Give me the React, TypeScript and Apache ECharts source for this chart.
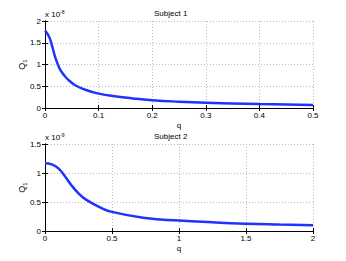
import React, { useEffect, useRef } from "react";
import * as echarts from "echarts";

const q1 = [0, 0.005, 0.009, 0.012, 0.015, 0.018, 0.0216, 0.025, 0.028, 0.034, 0.04, 0.046, 0.052, 0.06, 0.071, 0.085, 0.1, 0.13, 0.164, 0.2, 0.25, 0.3, 0.35, 0.4, 0.45, 0.5];
const v1 = [1.78, 1.7, 1.6, 1.48, 1.35, 1.21, 1.08, 0.97, 0.89, 0.78, 0.69, 0.62, 0.56, 0.5, 0.44, 0.38, 0.33, 0.27, 0.22, 0.18, 0.145, 0.12, 0.105, 0.09, 0.08, 0.07];
const q2 = [0, 0.05, 0.1, 0.15, 0.2, 0.25, 0.3, 0.4, 0.5, 0.75, 1, 1.25, 1.5, 1.75, 2];
const v2 = [1.17, 1.15, 1.08, 0.94, 0.78, 0.65, 0.55, 0.42, 0.33, 0.225, 0.18, 0.15, 0.127, 0.112, 0.1];
const xTicks1 = [0, 0.1, 0.2, 0.3, 0.4, 0.5];
const xTicks2 = [0, 0.5, 1, 1.5, 2];
const yTicks1 = [0, 0.5, 1, 1.5, 2];
const yTicks2 = [0, 0.5, 1, 1.5];
const titles = ["Subject 1", "Subject 2"];
const exponents = ["-8", "-9"];

const FONT = "Liberation Sans";
const FS = 8;

export default function App() {
  const ref = useRef<HTMLDivElement>(null);
  useEffect(() => {
    const chart = echarts.init(ref.current!, undefined, { renderer: "svg" });
    const grids = [
      { left: 45, top: 21, width: 268, height: 87 },
      { left: 45, top: 144, width: 268, height: 87 },
    ];
    const xT = [xTicks1, xTicks2];
    const yT = [yTicks1, yTicks2];
    const xAxes: any[] = [];
    const yAxes: any[] = [];
    const series: any[] = [];
    [0, 1].forEach((i) => {
      const xt = xT[i];
      const yt = yT[i];
      const xi = xt[1] - xt[0];
      const yi = yt[1] - yt[0];
      xAxes.push({
        type: "value", gridIndex: i, min: xt[0], max: xt[xt.length - 1], interval: xi,
        name: "q", nameLocation: "middle", nameGap: 13, nameMoveOverlap: false,
        nameTextStyle: { fontFamily: FONT, fontSize: FS, color: "#000", verticalAlign: "top" },
        axisLine: { show: true, lineStyle: { color: "#000", width: 1 } },
        axisTick: { show: true, inside: true, length: 3, lineStyle: { color: "#000" } },
        axisLabel: { fontFamily: FONT, fontSize: FS, color: "#000", margin: 3 },
        splitLine: { show: true, lineStyle: { color: "#bbb", type: [1, 2], width: 1 } },
      });
      xAxes.push({
        type: "value", gridIndex: i, position: "top", min: xt[0], max: xt[xt.length - 1], interval: xi,
        axisLine: { show: true, lineStyle: { color: "#000", width: 1 } },
        axisTick: { show: true, inside: true, length: 3, lineStyle: { color: "#000" } },
        axisLabel: { show: false }, splitLine: { show: false },
      });
      yAxes.push({
        type: "value", gridIndex: i, min: yt[0], max: yt[yt.length - 1], interval: yi,
        name: "{q|Q}{s|1}", nameLocation: "middle", nameGap: 17, nameRotate: 90, nameMoveOverlap: false,
        nameTextStyle: {
          fontFamily: FONT, color: "#000",
          rich: {
            q: { fontFamily: FONT, fontSize: FS + 1, color: "#000" },
            s: { fontFamily: FONT, fontSize: 6, color: "#000", verticalAlign: "bottom", padding: [6, 0, 0, 0] },
          },
        },
        axisLine: { show: true, lineStyle: { color: "#000", width: 1 } },
        axisTick: { show: true, inside: true, length: 3, lineStyle: { color: "#000" } },
        axisLabel: { fontFamily: FONT, fontSize: FS, color: "#000", margin: 4 },
        splitLine: { show: true, lineStyle: { color: "#bbb", type: [1, 2], width: 1 } },
      });
      yAxes.push({
        type: "value", gridIndex: i, position: "right", min: yt[0], max: yt[yt.length - 1], interval: yi,
        axisLine: { show: true, lineStyle: { color: "#000", width: 1 } },
        axisTick: { show: true, inside: true, length: 3, lineStyle: { color: "#000" } },
        axisLabel: { show: false }, splitLine: { show: false },
      });
      const qs = i === 0 ? q1 : q2;
      const vs = i === 0 ? v1 : v2;
      series.push({
        type: "line", xAxisIndex: i * 2, yAxisIndex: i * 2,
        data: qs.map((q, k) => [q, vs[k]]),
        smooth: 0.5, showSymbol: false, symbol: "none",
        lineStyle: { color: "#1f33ff", width: 2.5 },
      });
    });
    const graphic: any[] = [];
    [0, 1].forEach((i) => {
      graphic.push({
        type: "text", left: 179 - 25, top: grids[i].top - 12,
        style: { text: titles[i], fontFamily: FONT, fontSize: FS, fill: "#000" },
      });
      graphic.push({
        type: "text", left: 45, top: grids[i].top - 12,
        style: {
          text: "{a|x 10}{e|" + exponents[i] + "}",
          rich: {
            a: { fontFamily: FONT, fontSize: FS, fill: "#000", color: "#000" },
            e: { fontFamily: FONT, fontSize: 5, fill: "#000", color: "#000", verticalAlign: "top", padding: [0, 0, 6, 0] },
          },
        },
      });
    });
    chart.setOption({
      animation: false,
      backgroundColor: "#fff",
      grid: grids,
      xAxis: xAxes,
      yAxis: yAxes,
      series,
      graphic,
    });
    return () => chart.dispose();
  }, []);
  return <div ref={ref} style={{ position: "fixed", left: 0, top: 0, width: 346, height: 261 }} />;
}
